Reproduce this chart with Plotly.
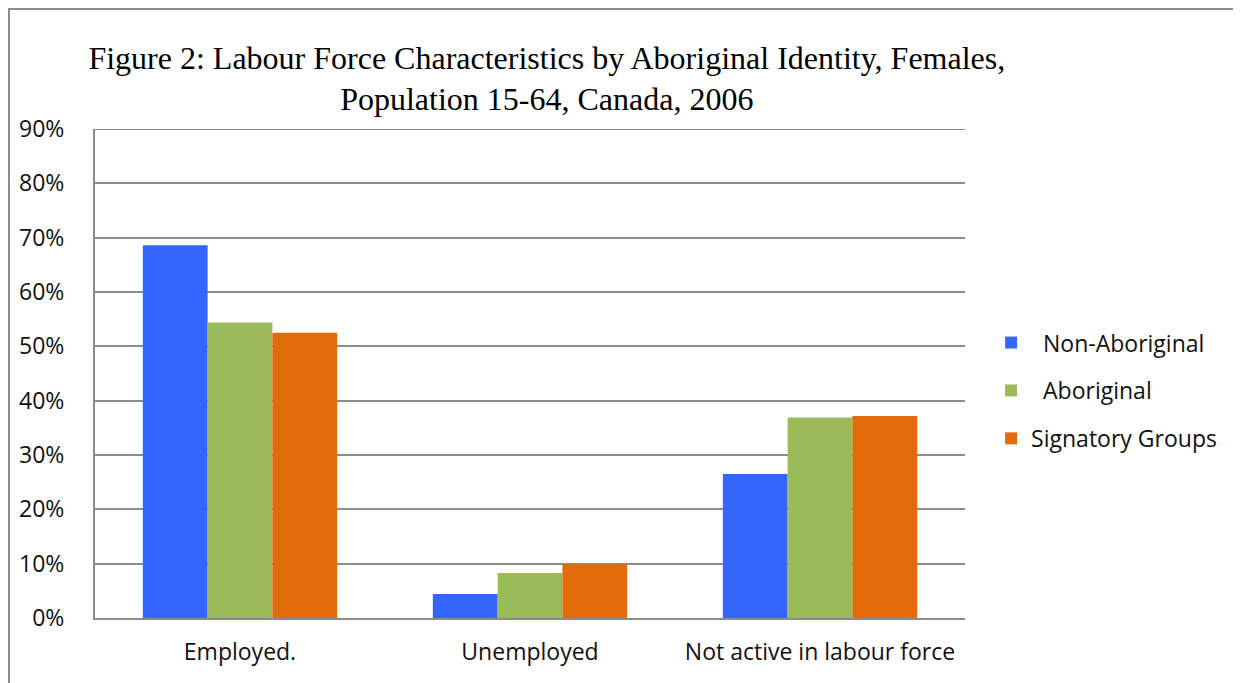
import plotly.graph_objects as go

categories = ["Employed.", "Unemployed", "Not active in labour force"]
non_aboriginal = [0.686, 0.044, 0.265]
aboriginal = [0.544, 0.083, 0.369]
signatory = [0.525, 0.099, 0.372]

series = [
    ("\u00a0\u00a0Non-Aboriginal", non_aboriginal, "#3366FF"),
    ("\u00a0\u00a0Aboriginal", aboriginal, "#9BBB59"),
    ("Signatory Groups", signatory, "#E36C0A"),
]

fig = go.Figure()
for i, (name, vals, color) in enumerate(series):
    fig.add_trace(go.Bar(name=name, x=categories, y=vals, marker_color=color,
                         marker_line_width=0, legendgroup=str(i)))

# page has an 8px body margin, so figure is 1233x675 placed at (8, 8)
W, H = 1233, 675
L, R, T, B = 87, 276, 121, 65
fig.update_layout(
    width=W, height=H,
    margin=dict(l=L, r=R, t=T, b=B),
    plot_bgcolor="white", paper_bgcolor="white",
    barmode="group", bargap=0.33, bargroupgap=0,
    font=dict(family="Open Sans, Noto Sans, sans-serif", size=23, color="#111"),
    title=dict(
        text="Figure 2: Labour Force Characteristics by Aboriginal Identity, Females,<br>Population 15-64, Canada, 2006",
        font=dict(family="Liberation Serif, Times New Roman, serif", size=32, color="#000"),
        x=0.437, xanchor="center", y=0.91, yanchor="top",
    ),
    legend=dict(x=1.030, y=0.465, xanchor="left", yanchor="middle",
                font=dict(size=23), tracegroupgap=15, traceorder="grouped"),
    showlegend=True,
)
fig.update_yaxes(range=[0, 0.9], dtick=0.1, tickformat=".0%",
                 showgrid=True, gridcolor="#8c8c8c", gridwidth=2,
                 showline=True, linecolor="#8c8c8c", linewidth=2,
                 ticks="", ticklabelstandoff=24, zeroline=False)
fig.update_xaxes(showline=True, linecolor="#8c8c8c", linewidth=2, ticks="",
                 ticklabelstandoff=12)
# top gridline at 90%
fig.add_shape(type="line", xref="paper", yref="y", x0=0, x1=1, y0=0.9, y1=0.9,
              line=dict(color="#8c8c8c", width=2), layer="below")
# outer frame
fig.add_shape(type="rect", xref="paper", yref="paper",
              x0=(1 - L) / 870, x1=(1229 - L) / 870, y0=-0.3, y1=(610 - 1) / 489,
              line=dict(color="#8c8c8c", width=2), layer="below")
fig.write_html("out.html")
